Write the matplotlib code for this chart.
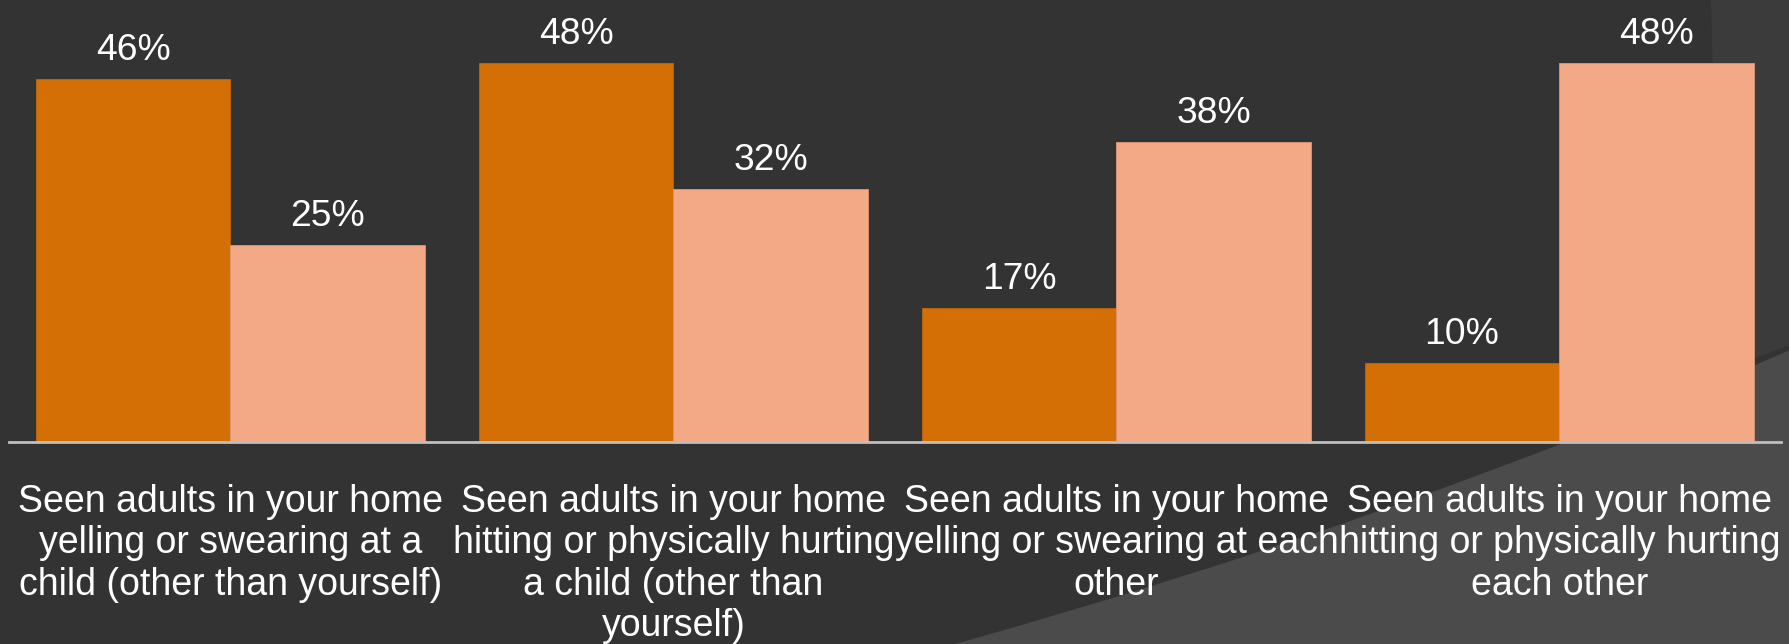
import matplotlib.pyplot as plt
import numpy as np
from matplotlib.patches import Polygon, PathPatch
from matplotlib.path import Path

# chart data
categories = [
    "Seen adults in your home\nyelling or swearing at a\nchild (other than yourself)",
    "Seen adults in your home\nhitting or physically hurting\na child (other than\nyourself)",
    "Seen adults in your home\nyelling or swearing at each\nother",
    "Seen adults in your home\nhitting or physically hurting\neach other",
]
series_a = [46, 48, 17, 10]
series_b = [25, 32, 38, 48]

plt.rcParams['font.family'] = ['Liberation Sans', 'DejaVu Sans']

W, H = 1790, 644
fig = plt.figure(figsize=(W / 100, H / 100), dpi=100)
fig.patch.set_facecolor('#333333')

# background decoration (theme shapes) on a full-figure axes, pixel coords
bg = fig.add_axes([0, 0, 1, 1], zorder=0)
bg.set_xlim(0, W)
bg.set_ylim(H, 0)
bg.axis('off')
bg.add_patch(Polygon([(1711, 0), (W, 0), (W, 345), (1722, 370), (1714, 120)],
                     closed=True, facecolor='#3b3b3b', edgecolor='none'))
verts = [(955, H), (1400, 520), (W, 350), (W, H), (955, H)]
codes = [Path.MOVETO, Path.CURVE3, Path.CURVE3, Path.LINETO, Path.CLOSEPOLY]
bg.add_patch(PathPatch(Path(verts, codes), facecolor='#4b4b4b', edgecolor='none'))

ax = fig.add_axes([9 / W, (H - 442) / H, (1781 - 9) / W, 442 / H], zorder=1)
ax.set_facecolor('none')

x = np.arange(len(categories))
bw = 0.44
bars_a = ax.bar(x - bw / 2, series_a, bw, color='#D46F06', edgecolor='#c0660a', linewidth=0.6, zorder=3)
bars_b = ax.bar(x + bw / 2, series_b, bw, color='#F3A886', edgecolor='#dd9678', linewidth=0.6, zorder=3)

for bars, vals in [(bars_a, series_a), (bars_b, series_b)]:
    for b, v in zip(bars, vals):
        ax.annotate(f"{v}%", (b.get_x() + b.get_width() / 2, v),
                    xytext=(0, 20.5), textcoords='offset points',
                    ha='center', va='center', color='white', fontsize=26.8)

ax.set_xlim(-0.5, 3.5)
ax.set_ylim(0, 56)
ax.set_yticks([])
ax.set_xticks(x)
ax.set_xticklabels(categories, color='white', fontsize=27, linespacing=1.2)
ax.tick_params(axis='x', length=0, pad=30)
for s in ['top', 'left', 'right']:
    ax.spines[s].set_visible(False)
ax.spines['bottom'].set_color('#bfbfbf')
ax.spines['bottom'].set_linewidth(2)
ax.spines['bottom'].set_zorder(4)

fig.savefig('out.png', dpi=100, facecolor=fig.get_facecolor())
